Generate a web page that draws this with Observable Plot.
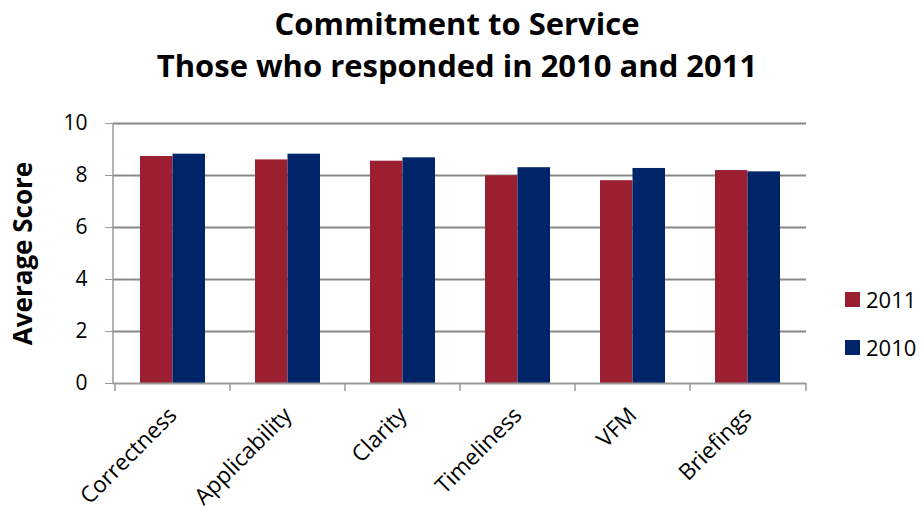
<!DOCTYPE html>
<html>
<head>
<meta charset="utf-8">
<script src="https://cdn.jsdelivr.net/npm/d3@7"></script>
<script src="https://cdn.jsdelivr.net/npm/@observablehq/plot@0.6"></script>
<style>
  html, body { margin: 0; padding: 0; background: #fff; }
  #wrap { position: relative; width: 923px; height: 519px; font-family: "Open Sans", Lato, sans-serif; overflow: hidden; }
  #title { position: absolute; left: 0; top: 2px; width: 914px; text-align: center; font-weight: bold; font-size: 31px; line-height: 42px; color: #000; }
  #legend { position: absolute; left: 845px; top: 288px; font-size: 22px; color: #000; }
  .item { display: flex; align-items: center; height: 22px; line-height: 22px; margin-bottom: 26px; }
  .sw { width: 15px; height: 15px; margin-right: 6px; }
  #chart { position: absolute; left: 0; top: 0; }
</style>
</head>
<body>
<div id="wrap">
  <div id="chart"></div>
  <div id="title">Commitment to Service<br>Those who responded in 2010 and 2011</div>
  <div id="legend"></div>
</div>
<script>
const categories = ["Correctness", "Applicability", "Clarity", "Timeliness", "VFM", "Briefings"];
const score2011 = [8.73, 8.60, 8.55, 7.99, 7.80, 8.19];
const score2010 = [8.82, 8.82, 8.68, 8.30, 8.27, 8.14];
const yTicks = [0, 2, 4, 6, 8, 10];
const seriesNames = ["2011", "2010"];
const seriesColors = ["#9B1F30", "#002469"];

const rows2011 = categories.map((c, i) => ({category: c, year: "2011", value: score2011[i]}));
const rows2010 = categories.map((c, i) => ({category: c, year: "2010", value: score2010[i]}));

const boundaryTicks = (index, scales, values, dim) => {
  const g = d3.create("svg:g");
  const x0 = dim.marginLeft, x1 = dim.width - dim.marginRight;
  const y0 = dim.height - dim.marginBottom;
  const xs = categories.map(c => scales.x(c)).concat([x1]);
  g.selectAll("line").data(xs).join("line")
    .attr("x1", d => d).attr("x2", d => d)
    .attr("y1", y0).attr("y2", y0 + 8)
    .attr("stroke", "#999").attr("stroke-width", 1.5);
  g.append("line").attr("x1", x0).attr("x2", x0)
    .attr("y1", dim.marginTop).attr("y2", y0)
    .attr("stroke", "#999").attr("stroke-width", 1.5);
  return g.node();
};

const chart = Plot.plot({
  width: 923,
  height: 519,
  marginTop: 123,
  marginBottom: 136,
  marginLeft: 113,
  marginRight: 117,
  style: {fontFamily: "'Open Sans', Lato, sans-serif", fontSize: "20px", color: "#000", background: "transparent"},
  x: {domain: categories, paddingInner: 0, paddingOuter: 0},
  y: {domain: [0, 10]},
  marks: [
    Plot.ruleY(yTicks.filter(d => d > 0), {stroke: "#888", strokeWidth: 2}),
    Plot.barY(rows2011, {x: "category", y: "value", fill: seriesColors[0], insetLeft: 25, insetRight: 57.5}),
    Plot.barY(rows2010, {x: "category", y: "value", fill: seriesColors[1], insetLeft: 57.5, insetRight: 25}),
    Plot.ruleY([0], {stroke: "#999", strokeWidth: 2}),
    boundaryTicks,
    Plot.axisY(yTicks, {tickSize: 8, tickPadding: 18, stroke: "#999", fontSize: 21, label: null}),
    Plot.axisX({tickSize: 0, tickPadding: 28, tickRotate: -45, fontSize: 22.5, label: null}),
    Plot.text(["Average Score"], {frameAnchor: "left", textAnchor: "middle", rotate: -90, dx: -90, fontWeight: "bold", fontSize: 26})
  ]
});
document.getElementById("chart").appendChild(chart);

const legend = document.getElementById("legend");
seriesNames.forEach((name, i) => {
  const item = document.createElement("div");
  item.className = "item";
  item.innerHTML = `<div class="sw" style="background:${seriesColors[i]}"></div><span>${name}</span>`;
  legend.appendChild(item);
});
</script>
</body>
</html>
